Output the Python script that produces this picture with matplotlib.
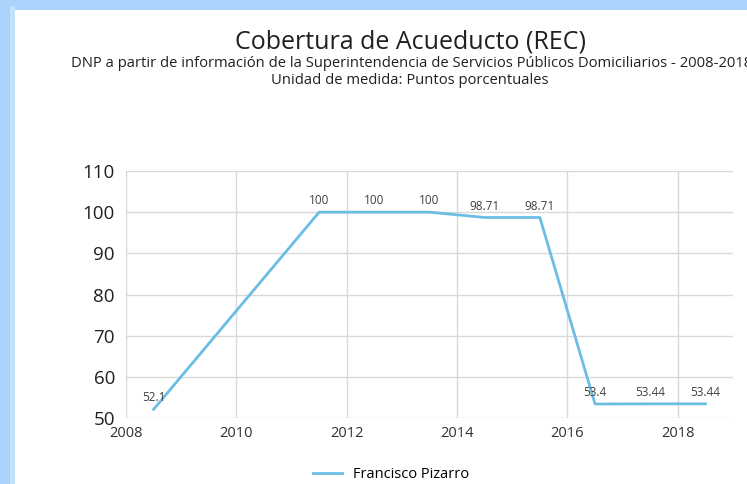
import matplotlib
matplotlib.use("Agg")
import matplotlib.pyplot as plt
from matplotlib.patches import Rectangle

plt.rcParams['font.family'] = ['Open Sans', 'DejaVu Sans']

# data
years = [2008.5, 2011.5, 2012.5, 2013.5, 2014.5, 2015.5, 2016.5, 2017.5, 2018.5]
values = [52.1, 100, 100, 100, 98.71, 98.71, 53.4, 53.44, 53.44]
labels = ["52.1", "100", "100", "100", "98.71", "98.71", "53.4", "53.44", "53.44"]
xticks = [2008, 2010, 2012, 2014, 2016, 2018]
yticks = [50, 60, 70, 80, 90, 100, 110]
series_name = "Francisco Pizarro"

W, H = 747, 484
fig = plt.figure(figsize=(W / 100, H / 100), dpi=100)
fig.patch.set_facecolor("#a9d3fb")

# white panel with light blue frame on top / left
fig.patches.append(Rectangle((15 / W, 0), 1, 1 - 10 / H, transform=fig.transFigure,
                             facecolor="white", edgecolor="none", zorder=-2))
fig.patches.append(Rectangle((10 / W, 0), 5 / W, 1 - 6 / H, transform=fig.transFigure,
                             facecolor="#c4e1fc", edgecolor="none", zorder=-2))

ax = fig.add_axes([126 / W, 1 - 418 / H, (733 - 126) / W, (418 - 171) / H])
ax.set_zorder(2)
ax.set_facecolor("white")

line, = ax.plot(years, values, color="#6cbde4", lw=2, label=series_name)
for x, y, t in zip(years, values, labels):
    ax.annotate(t, (x, y), xytext=(0, 3.5), textcoords="offset points",
                ha="center", va="bottom", fontsize=8.5, color="#404040")

ax.set_xlim(2008, 2019)
ax.set_ylim(50, 110)
ax.set_xticks(xticks)
ax.set_yticks(yticks)
ax.grid(True, color="#d9d9d9", lw=1)
ax.set_axisbelow(True)
for s in ax.spines.values():
    s.set_visible(False)
ax.tick_params(axis="both", length=0)
ax.tick_params(axis="y", labelsize=13.5, pad=8, labelcolor="#202020")
ax.tick_params(axis="x", labelsize=10.5, pad=6, labelcolor="#303030")

fig.text(410 / W, 1 - 42 / H, "Cobertura de Acueducto (REC)", ha="center", va="center",
         fontsize=18, color="#202020")
fig.text(412 / W, 1 - 63 / H,
         "DNP a partir de información de la Superintendencia de Servicios Públicos Domiciliarios - 2008-2018",
         ha="center", va="center", fontsize=10.6, color="#202020")
fig.text(410 / W, 1 - 80 / H, "Unidad de medida: Puntos porcentuales", ha="center", va="center",
         fontsize=10.6, color="#202020")

fig.legend(handles=[line], loc="center", bbox_to_anchor=(391 / W, 1 - 475 / H),
           frameon=False, fontsize=10.5, handlelength=2.0)

fig.savefig("out.png", dpi=100)
